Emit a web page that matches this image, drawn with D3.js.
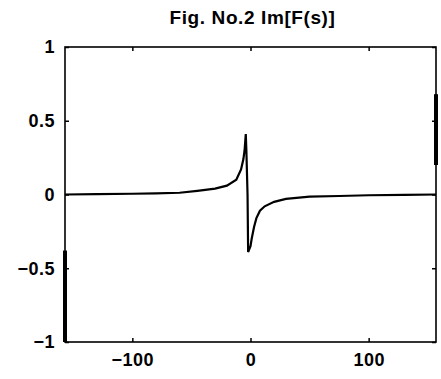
<!DOCTYPE html>
<html>
<head>
<meta charset="utf-8">
<script src="https://cdn.jsdelivr.net/npm/d3@7"></script>
<style>
  body { margin: 0; background: #fff; }
  text { font-family: "Liberation Sans", Arial, sans-serif; fill: #000; }
</style>
</head>
<body>
<div id="chart"></div>
<script>
const titleText = "Fig. No.2 Im[F(s)]";
const xTicks = [-100, 0, 100];
const yTicks = [-1, -0.5, 0, 0.5, 1];
const xDomain = [-157, 157];
const yDomain = [-1, 1];

// main curve
const curveX = [-157, -130, -100, -80, -60, -45, -30, -20, -12, -8, -6, -5, -4, -3.5, -2.5, -2, -1, 0, 1, 3, 5, 8, 12, 20, 30, 50, 75, 100, 130, 157];
const curveY = [0.0, 0.003, 0.005, 0.008, 0.012, 0.025, 0.04, 0.06, 0.10, 0.17, 0.24, 0.30, 0.41, 0.30, 0.0, -0.39, -0.37, -0.35, -0.30, -0.22, -0.16, -0.11, -0.08, -0.05, -0.03, -0.015, -0.01, -0.005, -0.002, 0.0];

// edge artifacts along the left and right border
const leftEdgeY = [-1.0, -0.38];
const rightEdgeY = [0.68, 0.2];

(() => {
    const width = 441, height = 379, margin = { top: 47, right: 5, bottom: 37, left: 65 };
    const w = width - margin.left - margin.right, h = height - margin.top - margin.bottom;

    const svg = d3.select("#chart").append("svg")
        .attr("width", width).attr("height", height);

    const x = d3.scaleLinear().domain(xDomain).range([0, w]);
    const y = d3.scaleLinear().domain(yDomain).range([h, 0]);

    const g = svg.append("g").attr("transform", `translate(${margin.left},${margin.top})`);

    // box
    g.append("rect").attr("width", w).attr("height", h)
        .attr("fill", "none").attr("stroke", "#000").attr("stroke-width", 1.6);

    const tl = 4;
    g.append("g").attr("transform", `translate(0,${h})`)
        .call(d3.axisBottom(x).tickValues(xTicks).tickSize(-tl).tickSizeOuter(0).tickPadding(11))
        .call(a => a.select(".domain").remove())
        .call(a => a.selectAll("line").attr("stroke-width", 1.5))
        .call(a => a.selectAll("text").style("font-size", "18px").style("font-weight", "bold").style("letter-spacing", "0.5px"));
    g.append("g")
        .call(d3.axisTop(x).tickValues(xTicks).tickSize(-tl).tickSizeOuter(0).tickFormat(""))
        .call(a => a.select(".domain").remove())
        .call(a => a.selectAll("line").attr("stroke-width", 1.5));
    g.append("g")
        .call(d3.axisLeft(y).tickValues(yTicks).tickSize(-tl).tickSizeOuter(0).tickPadding(10).tickFormat(d3.format("")))
        .call(a => a.select(".domain").remove())
        .call(a => a.selectAll("line").attr("stroke-width", 1.5))
        .call(a => a.selectAll("text").style("font-size", "18px").style("font-weight", "bold").style("letter-spacing", "0.5px"));
    g.append("g").attr("transform", `translate(${w},0)`)
        .call(d3.axisRight(y).tickValues(yTicks).tickSize(-tl).tickSizeOuter(0).tickFormat(""))
        .call(a => a.select(".domain").remove())
        .call(a => a.selectAll("line").attr("stroke-width", 1.5));

    const line = d3.line().x(d => x(d[0])).y(d => y(d[1]));

    g.append("path")
        .datum(curveX.map((v, i) => [v, curveY[i]]))
        .attr("d", line)
        .attr("fill", "none").attr("stroke", "#000").attr("stroke-width", 2.2);

    g.append("path")
        .datum(leftEdgeY.map(v => [xDomain[0], v]))
        .attr("d", line).attr("fill", "none").attr("stroke", "#000").attr("stroke-width", 4);
    g.append("path")
        .datum(rightEdgeY.map(v => [xDomain[1], v]))
        .attr("d", line).attr("fill", "none").attr("stroke", "#000").attr("stroke-width", 4);

    svg.append("text")
        .attr("x", margin.left + w / 2 + 2).attr("y", 24)
        .attr("text-anchor", "middle")
        .style("font-size", "19px").style("font-weight", "bold").style("letter-spacing", "0.6px")
        .text(titleText);
})();
</script>
</body>
</html>
